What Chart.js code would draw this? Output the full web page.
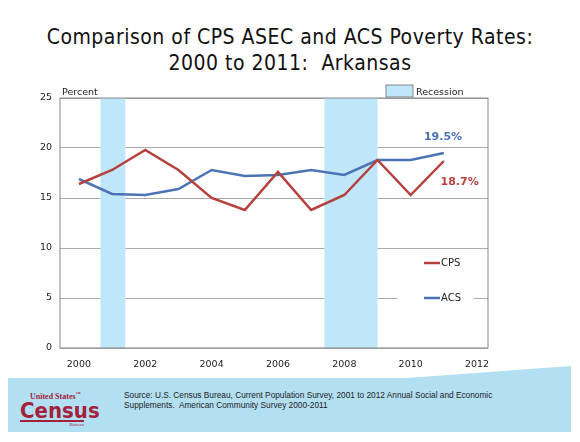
<!DOCTYPE html>
<html>
<head>
<meta charset="utf-8">
<script src="https://cdn.jsdelivr.net/npm/chart.js@4"></script>
<style>
  body { margin: 0; width: 580px; height: 442px; background: #fff; position: relative; overflow: hidden; font-family: 'DejaVu Sans', sans-serif; }
  #title { position: absolute; top: 24px; left: 0; width: 580px; text-align: center; font-size: 21px; line-height: 26px; color: #111; font-family: 'DejaVu Sans Condensed', 'DejaVu Sans', sans-serif; letter-spacing: 0.5px; }
  #wrap { position: absolute; left: 0; top: 80px; width: 580px; height: 290px; }
  #footer { position: absolute; left: 8px; top: 378px; width: 563px; height: 54px; background: #b3dff3; }
  #swoosh { position: absolute; left: 380px; top: 366px; width: 191px; height: 14px; background: #b3dff3; clip-path: polygon(0 100%, 100% 0, 100% 100%); }
  #logo { position: absolute; left: 20px; top: 391px; color: #a3213a; font-family: 'Liberation Serif', serif; }
  #src { position: absolute; left: 124px; top: 390px; font-size: 8.3px; line-height: 10px; color: #222; font-family: 'Liberation Sans', sans-serif; }
</style>
</head>
<body>
<div id="title">Comparison of CPS ASEC and ACS Poverty Rates:<br>2000 to 2011:&nbsp; Arkansas</div>
<div id="swoosh"></div>
<div id="footer"></div>
<div id="logo">
  <div style="font-size:8px;font-weight:bold;margin-left:10px;">United States<sup style="font-size:5px">™</sup></div>
  <div style="font-size:22px;font-weight:bold;font-family:'DejaVu Sans Condensed',sans-serif;line-height:19px;">Census</div>
  <div style="font-size:5px;text-align:right;width:64px;border-top:2px solid #a3213a;">Bureau</div>
</div>
<div id="src">Source: U.S. Census Bureau, Current Population Survey, 2001 to 2012 Annual Social and Economic<br>Supplements.&nbsp; American Community Survey 2000-2011</div>
<div id="wrap"><canvas id="chart"></canvas></div>
<script>
const years = [2000, 2001, 2002, 2003, 2004, 2005, 2006, 2007, 2008, 2009, 2010, 2011]
const cpsValues = [16.4, 17.8, 19.8, 17.8, 15.0, 13.8, 17.6, 13.8, 15.3, 18.8, 15.3, 18.7]
const acsValues = [16.9, 15.4, 15.3, 15.9, 17.8, 17.2, 17.3, 17.8, 17.3, 18.8, 18.8, 19.5]
const tickYears = [2000, 2002, 2004, 2006, 2008, 2010, 2012]
const recessionStart = [2000.65, 2007.4]
const recessionEnd = [2001.4, 2009.0]

const CPS_COLOR = '#b5403e'
const ACS_COLOR = '#4a74b5'
const REC_COLOR = '#bfe6f9'

const decorations = {
  id: 'decorations',
  beforeDatasetsDraw (chart) {
    const { ctx, chartArea, scales: { x, y } } = chart
    ctx.save()
    ctx.fillStyle = REC_COLOR
    recessionStart.forEach((s, i) => {
      const x0 = x.getPixelForValue(s)
      const x1 = x.getPixelForValue(recessionEnd[i])
      ctx.fillRect(x0, chartArea.top, x1 - x0, chartArea.bottom - chartArea.top)
    })
    // white block behind the legend
    ctx.fillStyle = '#fff'
    ctx.fillRect(x.getPixelForValue(2009.6), y.getPixelForValue(6.5), x.getPixelForValue(2011.9) - x.getPixelForValue(2009.6), y.getPixelForValue(1) - y.getPixelForValue(6.5))
    ctx.strokeStyle = '#888'
    ctx.lineWidth = 1
    ctx.strokeRect(chartArea.left, chartArea.top, chartArea.right - chartArea.left, chartArea.bottom - chartArea.top)
    ctx.restore()
  },
  afterDatasetsDraw (chart) {
    const { ctx, chartArea, scales: { x, y } } = chart
    ctx.save()
    ctx.font = '9.5px "DejaVu Sans"'
    ctx.fillStyle = '#222'
    ctx.textBaseline = 'bottom'
    ctx.fillText('Percent', chartArea.left + 2, chartArea.top - 1)
    // recession legend
    ctx.fillStyle = REC_COLOR
    ctx.fillRect(386, chartArea.top - 13, 27, 12)
    ctx.strokeStyle = '#888'
    ctx.strokeRect(386, chartArea.top - 13, 27, 12)
    ctx.fillStyle = '#222'
    ctx.fillText('Recession', 416, chartArea.top - 1)
    // series legend
    const items = [['CPS', CPS_COLOR, 8.5], ['ACS', ACS_COLOR, 5]]
    ctx.textBaseline = 'middle'
    ctx.font = '10px "DejaVu Sans"'
    items.forEach(([label, color, v]) => {
      const py = y.getPixelForValue(v)
      ctx.strokeStyle = color
      ctx.lineWidth = 2.5
      ctx.beginPath()
      ctx.moveTo(424, py)
      ctx.lineTo(440, py)
      ctx.stroke()
      ctx.fillStyle = '#222'
      ctx.fillText(label, 441, py)
    })
    // end labels
    ctx.font = 'bold 11px "DejaVu Sans"'
    ctx.fillStyle = ACS_COLOR
    ctx.fillText(acsValues[11].toFixed(1) + '%', x.getPixelForValue(2010.4), y.getPixelForValue(21.1))
    ctx.fillStyle = CPS_COLOR
    ctx.fillText(cpsValues[11].toFixed(1) + '%', x.getPixelForValue(2010.9), y.getPixelForValue(16.6))
    ctx.restore()
  }
}

document.addEventListener('DOMContentLoaded', () => {
  new Chart(document.getElementById('chart'), {
    type: 'line',
    data: {
      datasets: [
        { label: 'CPS', data: years.map((yr, i) => ({ x: yr, y: cpsValues[i] })), borderColor: CPS_COLOR, borderWidth: 2.5, pointRadius: 0, tension: 0 },
        { label: 'ACS', data: years.map((yr, i) => ({ x: yr, y: acsValues[i] })), borderColor: ACS_COLOR, borderWidth: 2.5, pointRadius: 0, tension: 0 }
      ]
    },
    options: {
      responsive: true,
      maintainAspectRatio: false,
      animation: false,
      layout: { padding: { top: 18, right: 92, left: 0, bottom: 0 } },
      plugins: { legend: { display: false }, tooltip: { enabled: false } },
      scales: {
        x: {
          type: 'linear',
          min: 1999.43,
          max: 2012.33,
          afterBuildTicks: (scale) => { scale.ticks = tickYears.map(v => ({ value: v })) },
          afterFit: (scale) => { scale.height = 22 },
          grid: { display: false },
          border: { display: false },
          ticks: { color: '#222', font: { family: 'DejaVu Sans', size: 9.5 }, callback: (v) => String(v) }
        },
        y: {
          min: 0,
          max: 25,
          afterFit: (scale) => { scale.width = 60 },
          grid: { color: '#aaa', drawTicks: false },
          border: { display: false },
          ticks: { stepSize: 5, padding: 8, color: '#222', font: { family: 'DejaVu Sans', size: 9.5 } }
        }
      }
    },
    plugins: [decorations]
  })
})
</script>
</body>
</html>
